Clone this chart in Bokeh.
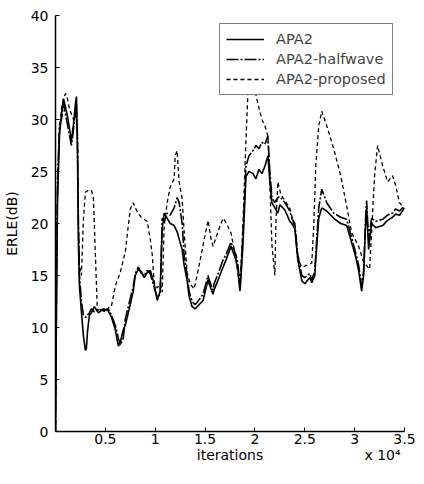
from bokeh.plotting import figure
from bokeh.models import Range1d, FixedTicker, Legend, LegendItem, LinearAxis
from bokeh.embed import file_html
from bokeh.resources import INLINE

# ---------------- data ----------------
x_apa = [0, 100, 200, 400, 600, 800, 1000, 1200, 1400, 1600, 1800, 2000, 2100, 2200, 2300, 2400,
         2600, 2800, 3000, 3100, 3200, 3400, 3600, 3900, 4300, 4800, 5300, 5600, 6000, 6300, 6500,
         6800, 7000, 7500, 7800, 8000, 8300, 8600, 8900, 9200, 9500, 9900, 10200, 10500, 10700,
         10900, 11200, 11500, 11900, 12200, 12400, 12700, 12900, 13200, 13400, 13700, 14000, 14200,
         14800, 15300, 15400, 15800, 15900, 16400, 16800, 17100, 17600, 18100, 18300, 18500, 18600,
         18800, 19100, 19400, 19800, 20100, 20400, 20700, 21000, 21300, 21500, 21700, 22000, 22300,
         22500, 23000, 23500, 23700, 24000, 24300, 24700, 25000, 25500, 25700, 26000, 26100, 26400,
         26700, 27200, 27900, 28600, 29200, 29600, 30100, 30400, 30700, 30900, 31100, 31200, 31400,
         31700, 32100, 32800, 33300, 33800, 34100, 34500, 35000]

y_apa2 = [0, 12, 22, 28.5, 30.5, 32.0, 31.2, 30.3, 29.2, 28.0, 29.5, 31.5, 32.2, 27, 18, 14,
          11.5, 9.2, 7.8, 8.0, 9.5, 11.2, 11.4, 12.0, 11.4, 11.8, 11.6, 11.0, 9.8, 8.2, 8.6,
          9.8, 10.2, 12.2, 13.5, 15.0, 15.6, 15.4, 14.8, 15.3, 15.5, 14.2, 12.6, 13.5, 19.5,
          21.0, 20.5, 20.0, 19.8, 19.2, 18.5, 17.5, 16.0, 14.5, 13.0, 12.0, 11.8, 12.0,
          12.6, 14.6, 14.2, 13.2, 13.6, 14.8, 15.8, 16.5, 17.8, 16.5, 15.5, 13.5, 14.8,
          18.0, 24.5, 25.0, 24.8, 24.3, 25.2, 24.8, 25.5, 26.5, 24.0, 22.0, 21.5, 21.0,
          21.8, 21.3, 20.2, 20.0, 19.5, 16.5, 14.5, 14.2, 14.8, 14.3, 15.0, 16.5, 20.5,
          21.5, 21.2, 20.5, 20.0, 19.8, 18.5, 16.8, 15.5, 13.5, 15.0, 20.0, 21.5, 17.5,
          20.0, 19.6, 19.8, 20.3, 20.6, 20.9, 20.8, 21.5]

y_half = [0, 14, 24, 29.5, 30.0, 31.5, 30.5, 29.5, 28.5, 27.5, 29.0, 30.8, 31.5, 28.5, 20, 15,
          12.5, 11.2, 11.0, 11.0, 11.2, 11.4, 11.8, 11.5, 11.8, 11.6, 11.8, 11.2, 10.2, 9.0, 8.3,
          9.0, 10.8, 12.8, 14.0, 15.2, 15.8, 15.2, 15.0, 15.5, 15.2, 13.8, 12.9, 13.2, 20.5,
          20.2, 21.0, 20.8, 21.5, 22.5, 22.0, 20.0, 17.0, 15.0, 13.5, 12.5, 12.2, 12.4,
          13.2, 15.0, 14.6, 13.6, 14.2, 15.4, 16.5, 17.0, 18.2, 17.0, 16.0, 14.0, 15.5,
          19.0, 25.5, 26.5, 27.0, 27.5, 27.2, 27.8, 27.6, 28.4, 25.0, 22.5, 22.0, 22.5,
          22.6, 22.0, 21.2, 20.5, 20.0, 17.0, 15.0, 14.8, 15.2, 14.6, 15.4, 17.0, 21.5,
          23.3, 22.0, 21.0, 20.6, 20.4, 19.0, 17.2, 16.0, 14.0, 15.5, 20.5, 22.2, 18.5,
          20.5, 20.2, 20.4, 20.8, 21.0, 21.4, 21.2, 21.7]

x_prop = [0, 100, 200, 400, 600, 800, 1000, 1200, 1400, 1600, 1800, 2000, 2200, 2300, 2400, 2600,
          2800, 3000, 3300, 3600, 3800, 4000, 4200, 4500, 5000, 5400, 5600, 6000, 6500, 7000, 7500,
          7800, 8000, 8300, 8600, 8900, 9200, 9500, 9700, 9900, 10200, 10500, 10700, 10900, 11200,
          11500, 11900, 12000, 12200, 12400, 12700, 12900, 13200, 13500, 13900, 14200, 14800, 15300,
          15600, 15800, 16400, 16800, 17100, 17600, 18100, 18500, 18800, 19100, 19300, 19700, 20000,
          20300, 20700, 21000, 21300, 21500, 21700, 22000, 22100, 22300, 22600, 23000, 23500, 24000,
          24300, 24700, 25000, 25700, 25900, 26100, 26400, 26700, 27200, 27900, 28600, 29200, 29700,
          30400, 30900, 31500, 32000, 32300, 32800, 33300, 33800, 34100, 34500, 35000]

y_prop = [0, 13, 23, 29, 31, 32.0, 32.5, 32.0, 31.0, 30.5, 30.0, 30.5, 29.0, 20.0, 16.0, 15.0,
          20.4, 23.0, 23.2, 23.2, 22.5, 17.0, 11.6, 11.8, 11.5, 12.0, 12.0, 14.0, 15.3, 17.3, 21.4,
          22.0, 21.5, 21.0, 20.6, 20.4, 20.2, 18.5, 17.0, 14.3, 13.8, 14.2, 13.4, 19.8, 22.0,
          23.5, 24.3, 26.5, 27.0, 24.0, 22.4, 19.2, 15.3, 14.2, 13.7, 15.0, 17.9, 20.3,
          18.5, 17.8, 19.5, 20.5, 20.1, 19.1, 16.6, 13.7, 20.0, 28.0, 32.6, 33.0, 32.8,
          31.5, 30.0, 29.4, 28.4, 24.0, 18.0, 15.0, 20.0, 24.0, 22.8, 22.2, 21.5, 19.5,
          16.6, 15.8, 15.9, 16.2, 19.8, 25.5, 29.4, 30.8, 29.4, 27.2, 24.6, 21.7, 19.1,
          17.8, 16.3, 15.6, 24.6, 27.5, 25.6, 24.0, 24.6, 23.7, 22.0, 21.4]

x_ticks = [5000, 10000, 15000, 20000, 25000, 30000, 35000]
x_tick_labels = ["0.5", "1", "1.5", "2", "2.5", "3", "3.5"]
y_ticks = [0, 5, 10, 15, 20, 25, 30, 35, 40]
series_names = ["APA2", "APA2-halfwave", "APA2-proposed"]
# texts under the x tick labels: axis title and the x10^4 multiplier
bottom_text_pos = [17500, 32800]
bottom_texts = ["iterations", "x 10\u2074"]

FONT = "DejaVu Sans"

p = figure(width=416, height=468, output_backend="svg", toolbar_location=None,
           x_range=Range1d(0, 35000), y_range=Range1d(0, 40),
           min_border_left=48, min_border_right=12, min_border_top=15, min_border_bottom=37)
p.outline_line_color = None
p.grid.visible = False
p.background_fill_color = "white"
p.border_fill_color = "white"

r1 = p.line(x_apa, y_apa2, line_color="black", line_width=1.6)
r2 = p.line(x_apa, y_half, line_color="black", line_width=1.6, line_dash="12 2 2 2")
r3 = p.line(x_prop, y_prop, line_color="black", line_width=1.3, line_dash="4 3")

def style(ax):
    ax.axis_line_color = "black"
    ax.axis_line_width = 1.5
    ax.major_tick_in = 4
    ax.major_tick_out = 0
    ax.minor_tick_in = 0
    ax.minor_tick_out = 0
    ax.major_tick_line_color = "black"
    ax.major_label_text_font = FONT
    ax.major_label_text_font_size = "14px"
    ax.major_label_text_color = "black"
    ax.axis_label_text_font = FONT
    ax.axis_label_text_font_size = "14px"
    ax.axis_label_text_font_style = "normal"
    ax.axis_label_text_color = "black"

style(p.xaxis[0])
style(p.yaxis[0])

p.xaxis[0].ticker = FixedTicker(ticks=x_ticks)
p.xaxis[0].major_label_overrides = dict(zip(x_ticks, x_tick_labels))
p.xaxis[0].major_label_standoff = 2

p.yaxis.ticker = FixedTicker(ticks=y_ticks)
p.yaxis.major_label_standoff = 7
p.yaxis.axis_label = "ERLE(dB)"
p.yaxis.axis_label_standoff = 8

ax2 = LinearAxis(ticker=FixedTicker(ticks=bottom_text_pos),
                 major_label_overrides=dict(zip(bottom_text_pos, bottom_texts)))
style(ax2)
ax2.axis_line_color = None
ax2.major_tick_line_color = None
ax2.minor_tick_line_color = None
ax2.major_label_standoff = 0
p.add_layout(ax2, "below")

legend = Legend(items=[LegendItem(label=series_names[0], renderers=[r1]),
                       LegendItem(label=series_names[1], renderers=[r2]),
                       LegendItem(label=series_names[2], renderers=[r3])],
                location=(164, 336))
legend.label_text_font = FONT
legend.label_text_font_size = "14.5px"
legend.label_height = 18
legend.glyph_height = 18
legend.glyph_width = 38
legend.label_standoff = 12
legend.spacing = 2
legend.padding = 6
legend.border_line_color = "black"
legend.border_line_width = 1
legend.background_fill_alpha = 1
p.add_layout(legend, "center")

open("out.html", "w").write(file_html(p, INLINE))
